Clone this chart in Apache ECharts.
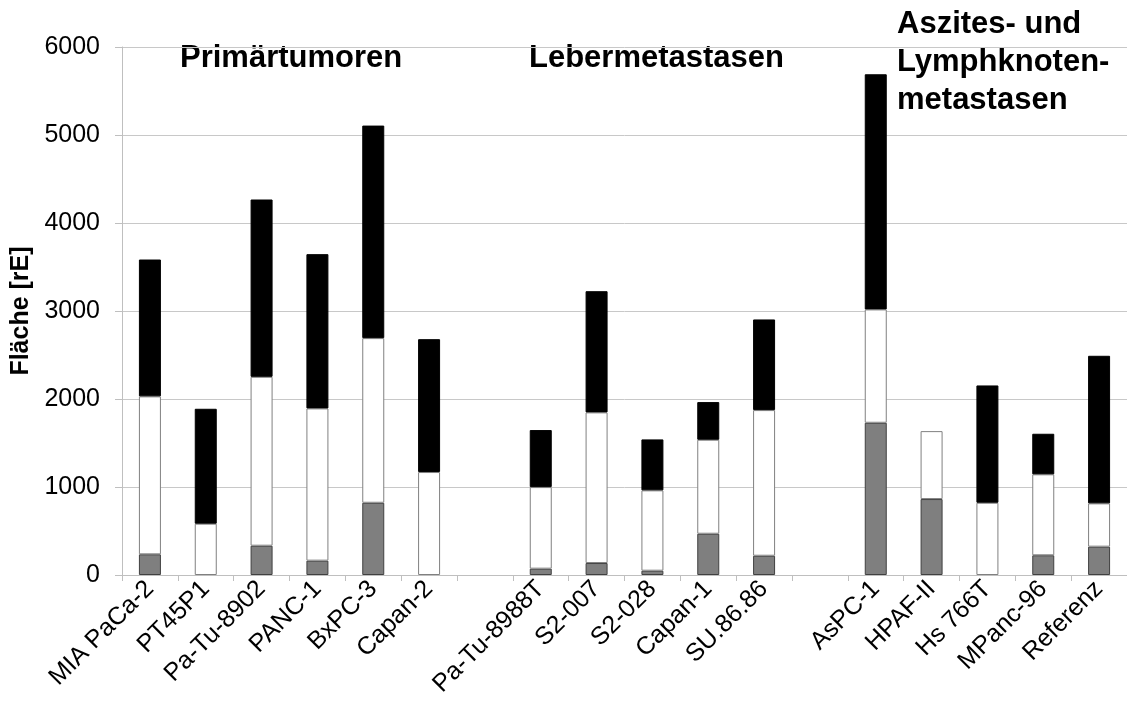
<!DOCTYPE html>
<html>
<head>
<meta charset="utf-8">
<script src="https://cdn.jsdelivr.net/npm/echarts@6/dist/echarts.min.js"></script>
<style>
  html, body { margin: 0; padding: 0; background: #fff; }
  #chart { width: 1127px; height: 709px; }
</style>
</head>
<body>
<div id="chart"></div>
<script>
// Zelllinien (leere Einträge = Lücke zwischen den Gruppen)
const categories = [
  'MIA PaCa-2', 'PT45P1', 'Pa-Tu-8902', 'PANC-1', 'BxPC-3', 'Capan-2',
  '',
  'Pa-Tu-8988T', 'S2-007', 'S2-028', 'Capan-1', 'SU.86.86',
  '',
  'AsPC-1', 'HPAF-II', 'Hs 766T', 'MPanc-96', 'Referenz'
];

// gestapelte Anteile (unten grau, Mitte weiß, oben schwarz); '-' = kein Anteil
const grayValues  = [235, '-', 333, 163, 821, '-', '-', 72, 136, 49, 469, 219, '-', 1730, 863, '-', 224, 322];
const whiteValues = [1795, 583, 1919, 1730, 1871, 1170, '-', 927, 1712, 913, 1068, 1655, '-', 1288, 772, 821, 920, 492];
const blackValues = [1555, 1306, 2015, 1753, 2415, 1510, '-', 648, 1377, 579, 428, 1030, '-', 2672, '-', 1333, 461, 1677];

const yTicks = [0, 1000, 2000, 3000, 4000, 5000, 6000];

const font = 'Liberation Sans, Arial, sans-serif';

const chart = echarts.init(document.getElementById('chart'));

const option = {
  animation: false,
  grid: { left: 122, right: 0, top: 47, bottom: 134, containLabel: false },
  xAxis: {
    type: 'category',
    data: categories,
    axisLine: { lineStyle: { color: '#bfbfbf', width: 1 } },
    axisTick: { show: true, length: 6, alignWithLabel: false, lineStyle: { color: '#bfbfbf' } },
    axisLabel: {
      interval: 0,
      rotate: 45,
      color: '#000',
      fontFamily: font,
      fontSize: 25,
      margin: 10
    }
  },
  yAxis: {
    type: 'value',
    min: yTicks[0],
    max: yTicks[yTicks.length - 1],
    interval: 1000,
    name: 'Fläche [rE]',
    nameLocation: 'middle',
    nameGap: 84,
    nameTextStyle: { color: '#000', fontFamily: font, fontSize: 25, fontWeight: 'bold' },
    axisLine: { show: true, lineStyle: { color: '#bfbfbf' } },
    axisTick: { show: true, length: 7, lineStyle: { color: '#bfbfbf' } },
    axisLabel: {
      color: '#000', fontFamily: font, fontSize: 25, margin: 22,
      formatter: (v) => String(v)
    },
    splitLine: { show: true, lineStyle: { color: '#c8c8c8', width: 1 } }
  },
  series: [
    {
      name: 'grau',
      type: 'bar',
      stack: 'total',
      barWidth: 22,
      data: grayValues,
      itemStyle: { color: '#7f7f7f', borderColor: '#404040', borderWidth: 1 }
    },
    {
      name: 'weiß',
      type: 'bar',
      stack: 'total',
      barWidth: 22,
      data: whiteValues,
      itemStyle: { color: '#ffffff', borderColor: '#808080', borderWidth: 1 }
    },
    {
      name: 'schwarz',
      type: 'bar',
      stack: 'total',
      barWidth: 22,
      data: blackValues,
      itemStyle: { color: '#000000', borderColor: '#000000', borderWidth: 1 }
    }
  ],
  graphic: [
    {
      type: 'text', left: 180, top: 43,
      style: { text: 'Primärtumoren', font: 'bold 31px ' + font, fill: '#000' }
    },
    {
      type: 'text', left: 529, top: 43,
      style: { text: 'Lebermetastasen', font: 'bold 31px ' + font, fill: '#000' }
    },
    {
      type: 'text', left: 897, top: 5,
      style: {
        text: 'Aszites- und\nLymphknoten-\nmetastasen',
        font: 'bold 31px ' + font,
        lineHeight: 38,
        fill: '#000'
      }
    }
  ]
};

chart.setOption(option);
</script>
</body>
</html>
